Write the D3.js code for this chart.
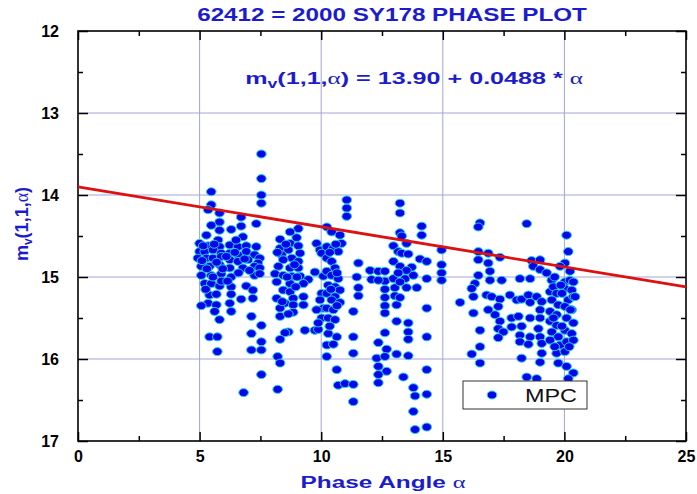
<!DOCTYPE html>
<html>
<head>
<meta charset="utf-8">
<script src="https://cdn.jsdelivr.net/npm/d3@7"></script>
<style>
  html, body { margin: 0; padding: 0; background: #fff; }
  svg { display: block; }
</style>
</head>
<body>
<svg id="chart" width="697" height="494"></svg>
<script>
// ---- Data: reduced magnitude m_v(1,1,α) against phase angle α (degrees), grouped by phase band ----
const band05 = [
  [7.54,13.50],[7.54,13.80],[7.54,14.00],[7.54,14.10],
  [5.48,13.96],[5.48,14.12],[5.35,14.18],[5.82,14.22],[6.71,14.27],[5.82,14.33],[7.33,14.35],[5.48,14.37],
  [6.71,14.38],[6.30,14.42],[5.82,14.43],[5.28,14.49],[6.78,14.51],[5.76,14.55],[5.00,14.59],[5.35,14.62],
  [5.82,14.63],[6.24,14.61],[6.58,14.63],[6.92,14.62],[7.33,14.63],
  [5.00,14.69],[5.21,14.69],[5.55,14.67],[5.89,14.71],[6.24,14.71],[6.58,14.73],[6.92,14.69],[7.26,14.73],[7.47,14.77],
  [4.93,14.77],[5.28,14.77],[5.55,14.77],[5.89,14.75],[6.24,14.79],[6.58,14.81],[6.99,14.79],[7.40,14.83],
  [5.07,14.87],[5.41,14.87],[5.82,14.85],[6.24,14.89],[6.78,14.89],[7.26,14.87],[7.47,14.89],
  [5.07,14.98],[5.48,14.98],[5.89,14.96],[6.30,15.00],[7.26,14.98],[7.47,14.96],
  [5.21,15.08],[5.48,15.08],[5.82,15.11],[6.30,15.12],[6.92,15.11],
  [5.41,15.22],[5.69,15.21],[6.30,15.21],[7.19,15.16],
  [5.35,15.32],[5.07,15.35],[5.69,15.34],[6.24,15.32],[6.71,15.27],[7.19,15.26],
  [5.62,15.42],[6.30,15.42],[5.82,15.52],[7.13,15.48],[7.13,15.69],[7.54,15.59],
  [5.41,15.73],[5.73,15.73],[7.54,15.79],[5.73,15.91],[7.13,15.89],[7.54,15.89],[7.54,16.19],[6.81,16.41],
  [5.15,14.62],[5.60,14.60],[5.70,14.82],[5.30,14.90],[5.95,14.90],[6.10,14.75],[6.45,14.70],[6.60,14.95],
  [6.85,14.78],[7.05,14.92],[5.55,15.00],[5.90,15.05],[6.15,15.05],[5.25,15.15],[6.50,14.55],[5.10,14.80]
];
const band08 = [
  [8.21,15.97],[8.31,16.05],[8.21,16.37],
  [9.06,14.41],[8.72,14.45],[8.99,14.52],[8.31,14.54],[8.72,14.59],[9.06,14.62],[8.31,14.65],[8.65,14.67],
  [9.13,14.71],[8.37,14.73],[8.79,14.77],[8.44,14.79],[9.06,14.81],[8.24,14.87],[8.72,14.89],[9.06,14.89],
  [8.10,14.96],[8.44,14.98],[8.79,14.99],[9.13,14.99],[9.47,15.03],[8.17,15.06],[8.72,15.08],[9.27,15.08],
  [8.44,15.16],[8.72,15.18],[8.17,15.26],[8.85,15.26],[9.27,15.24],[8.51,15.32],[8.85,15.34],[9.27,15.34],
  [8.31,15.38],[8.85,15.43],[8.31,15.48],[8.65,15.67],[8.51,15.68],[8.31,15.76],[9.33,15.65],[9.74,15.65],[9.88,15.64],
  [9.81,14.59],[9.95,14.67],[10.02,14.71],[9.74,14.94],[10.09,14.99],[10.02,15.20],[9.95,15.28],[10.09,15.38],
  [9.81,15.40],[10.02,15.50],[9.88,15.56],
  [8.55,14.60],[8.90,14.85],[8.60,15.00],[8.95,15.12],[8.40,15.30],[8.65,15.45],[8.20,14.70],[9.00,15.00]
];
const band10 = [
  [11.05,14.06],[11.05,14.16],[11.05,14.26],
  [10.23,14.39],[10.43,14.45],[10.77,14.49],[10.84,14.59],[10.23,14.63],[10.50,14.65],[10.70,14.69],
  [10.23,14.77],[10.43,14.81],[11.53,14.83],[10.57,14.89],[10.23,14.93],[10.43,14.98],[10.70,15.02],[11.46,15.00],
  [10.29,15.10],[10.57,15.12],[10.77,15.16],[11.53,15.13],[10.23,15.20],[10.57,15.24],[11.53,15.23],[10.43,15.28],
  [10.77,15.31],[10.23,15.38],[10.50,15.40],[10.29,15.50],[10.57,15.52],[11.32,15.42],
  [10.29,15.69],[10.64,15.73],[11.32,15.73],[10.23,15.83],[10.50,15.82],[11.32,15.93],[10.23,15.97],
  [10.64,16.13],[10.70,16.32],[10.98,16.30],[11.32,16.31],[11.32,16.52],
  [12.01,14.92],[12.07,15.03],[12.35,14.93],[12.62,14.93],[12.62,15.05],[12.35,15.04],[12.97,15.02],
  [12.62,15.15],[13.03,15.13],[12.62,15.25],[13.03,15.23],[12.62,15.35],[13.10,15.34],[12.62,15.44],
  [13.10,15.54],[12.62,15.68],[12.35,15.80],[12.69,15.88],[12.28,15.99],[12.62,15.97],[12.35,16.09],
  [12.69,16.15],[12.35,16.19],[12.35,16.29],[13.10,15.94],
  [13.24,14.10],[13.24,14.22],[13.24,14.46],[12.97,14.62],[13.17,14.69],[12.97,14.81],[13.24,14.87],
  [10.60,14.60],[10.35,14.70],[10.65,14.95],[10.40,15.15],[10.65,15.35],[10.35,15.60]
];
const band13 = [
  [13.31,14.50],[13.51,14.59],[13.31,14.71],[13.58,14.72],[14.13,14.38],[14.13,14.49],[14.06,14.78],
  [14.34,14.81],[13.72,14.88],[13.51,14.92],[13.45,15.02],[13.79,14.98],[13.24,15.06],[13.51,15.13],
  [13.93,15.13],[14.34,15.02],[13.24,15.25],[13.17,14.95],
  [14.95,14.67],[14.95,14.85],[14.95,14.95],[14.95,15.04],
  [14.34,15.38],[13.58,15.56],[13.58,15.67],[13.58,15.76],[14.34,15.73],[13.58,15.96],[14.34,16.13],
  [13.38,16.22],[13.79,16.35],[13.86,16.45],[14.34,16.43],[13.79,16.64],[13.86,16.86],[14.34,16.83]
];
const band16 = [
  [16.53,14.34],[16.46,14.39],[18.45,14.35],[20.09,14.49],[20.16,14.69],
  [16.46,14.69],[16.87,14.71],[17.35,14.76],[16.46,14.79],[16.87,14.83],
  [18.65,14.80],[19.00,14.79],[18.72,14.87],[19.00,14.91],[19.27,14.95],[20.02,14.83],[19.82,14.87],[20.23,14.93],
  [16.46,14.98],[16.94,14.93],[17.42,15.04],[16.94,15.04],[18.17,15.02],[18.59,15.02],
  [16.32,15.08],[16.19,15.14],[16.26,15.24],[15.71,15.31],[16.26,15.44],[16.53,15.65],[16.53,15.85],
  [16.19,15.94],[16.53,16.05],
  [16.80,15.22],[17.01,15.24],[17.35,15.27],[17.28,15.36],[17.15,15.46],[17.35,15.54],[17.28,15.63],
  [17.49,15.67],[17.28,15.74],[16.87,15.40],
  [17.76,15.22],[18.04,15.28],[18.24,15.27],[18.52,15.22],[18.59,15.31],[18.86,15.24],[17.83,15.50],
  [18.11,15.48],[17.83,15.61],[18.24,15.60],[18.59,15.50],[18.17,15.71],[18.59,15.73],[18.17,15.79],
  [18.52,15.82],[18.24,15.99],
  [19.07,15.30],[19.00,15.40],[19.00,15.50],[18.93,15.63],[19.00,15.73],[19.07,15.81],[19.07,15.93],[19.00,16.04],
  [19.48,15.04],[19.41,15.18],[19.55,15.12],[19.68,15.20],[19.48,15.28],[19.75,15.34],[19.41,15.42],
  [19.68,15.46],[19.41,15.54],[19.68,15.59],[19.48,15.67],[19.75,15.73],[19.41,15.77],[19.82,15.83],
  [19.68,15.93],[19.75,16.05],
  [20.02,15.06],[20.23,15.04],[20.02,15.14],[20.30,15.16],[20.16,15.28],[20.37,15.24],[20.02,15.36],
  [20.30,15.40],[20.09,15.50],[20.37,15.56],[20.02,15.65],[20.30,15.69],[20.09,15.79],[20.37,15.77],
  [20.02,15.91],[20.09,16.09],[20.37,16.17],
  [18.45,16.22],[18.86,16.24],[20.16,16.24],[20.37,15.06],[20.44,15.24],
  [19.60,15.00],[19.90,15.20],[19.55,15.50],[19.90,15.60],[20.20,15.85],[19.60,15.85],[20.25,15.40],[19.85,15.10]
];
const observations = [].concat(band05, band08, band10, band13, band16);

// Linear phase fit m_v = intercept + slope * α
const fitIntercept = 13.90;
const fitSlope = 0.0488;

// Axis ticks
const xTicks = [0, 5, 10, 15, 20, 25];
const xMinorTicks = [2.5, 7.5, 12.5, 17.5, 22.5];
const yTicks = [12, 13, 14, 15, 16, 17];
const yMinorTicks = [12.5, 13.5, 14.5, 15.5, 16.5];
const xGridLines = [5, 10, 15, 20];
const yGridLines = [13, 14, 15, 16];

const titleText = "62412 = 2000 SY178 PHASE PLOT";
const legendLabel = "MPC";

// ---- Layout ----
const plot = { left: 78, right: 686, top: 31, bottom: 441 };
const FONT = "'Liberation Sans', Arial, Helvetica, sans-serif";
const BLUE_TEXT = "#1c1ccc";

const svg = d3.select("#chart");
const x = d3.scaleLinear().domain([0, 25]).range([plot.left, plot.right]);
const y = d3.scaleLinear().domain([12, 17]).range([plot.top, plot.bottom]);

// Grid
const grid = svg.append("g").attr("stroke", "#a4a4d6").attr("stroke-width", 1);
grid.selectAll("line.vx").data(xGridLines).join("line")
  .attr("x1", d => x(d)).attr("x2", d => x(d))
  .attr("y1", plot.top).attr("y2", plot.bottom);
grid.selectAll("line.hy").data(yGridLines).join("line")
  .attr("x1", plot.left).attr("x2", plot.right)
  .attr("y1", d => y(d)).attr("y2", d => y(d));

// Axes (ticks point into the plot on all four sides)
function styleAxis(g) {
  g.select(".domain").remove();
  g.selectAll(".tick line").attr("stroke", "#000").attr("stroke-width", 1.5);
  g.selectAll(".tick text")
    .attr("fill", "#000")
    .style("font-family", FONT)
    .style("font-size", "16px")
    .style("font-weight", "bold");
}
const fmt = d3.format("d");
svg.append("g").attr("transform", `translate(0,${plot.bottom})`)
  .call(d3.axisBottom(x).tickValues(xTicks).tickSizeInner(-9).tickSizeOuter(0).tickPadding(10).tickFormat(fmt))
  .call(styleAxis);
svg.append("g").attr("transform", `translate(0,${plot.bottom})`)
  .call(d3.axisBottom(x).tickValues(xMinorTicks).tickSizeInner(-5).tickSizeOuter(0).tickFormat(""))
  .call(styleAxis);
svg.append("g").attr("transform", `translate(0,${plot.top})`)
  .call(d3.axisTop(x).tickValues(xTicks).tickSizeInner(-9).tickSizeOuter(0).tickFormat(""))
  .call(styleAxis);
svg.append("g").attr("transform", `translate(0,${plot.top})`)
  .call(d3.axisTop(x).tickValues(xMinorTicks).tickSizeInner(-5).tickSizeOuter(0).tickFormat(""))
  .call(styleAxis);
svg.append("g").attr("transform", `translate(${plot.left},0)`)
  .call(d3.axisLeft(y).tickValues(yTicks).tickSizeInner(-10).tickSizeOuter(0).tickPadding(19).tickFormat(fmt))
  .call(styleAxis);
svg.append("g").attr("transform", `translate(${plot.left},0)`)
  .call(d3.axisLeft(y).tickValues(yMinorTicks).tickSizeInner(-5).tickSizeOuter(0).tickFormat(""))
  .call(styleAxis);
svg.append("g").attr("transform", `translate(${plot.right},0)`)
  .call(d3.axisRight(y).tickValues(yTicks).tickSizeInner(-10).tickSizeOuter(0).tickFormat(""))
  .call(styleAxis);
svg.append("g").attr("transform", `translate(${plot.right},0)`)
  .call(d3.axisRight(y).tickValues(yMinorTicks).tickSizeInner(-5).tickSizeOuter(0).tickFormat(""))
  .call(styleAxis);

// Plot frame
svg.append("rect")
  .attr("x", plot.left).attr("y", plot.top)
  .attr("width", plot.right - plot.left).attr("height", plot.bottom - plot.top)
  .attr("fill", "none").attr("stroke", "#000").attr("stroke-width", 1.6);

// Observations
const marker = { rx: 4.8, ry: 4.0, fill: "#0606e6", stroke: "#22d2ff" };
svg.append("g").selectAll("ellipse").data(observations).join("ellipse")
  .attr("cx", d => x(d[0])).attr("cy", d => y(d[1]))
  .attr("rx", marker.rx).attr("ry", marker.ry)
  .attr("fill", marker.fill).attr("stroke", marker.stroke).attr("stroke-width", 1);

// Fitted line
const fitLine = d3.line().x(a => x(a)).y(a => y(fitIntercept + fitSlope * a));
svg.append("path").datum(x.domain())
  .attr("d", fitLine)
  .attr("fill", "none").attr("stroke", "#dd1111").attr("stroke-width", 2.8);

// Text helper: centred text, stretched horizontally to a given width
function wideText(cx, baseline, width, build) {
  const g = svg.append("g");
  const t = g.append("text").attr("text-anchor", "middle")
    .style("font-family", FONT).style("font-weight", "bold");
  build(t);
  const w = t.node().getComputedTextLength();
  g.attr("transform", `translate(${cx},${baseline}) scale(${width / w},1)`);
  return g;
}
const ALPHA_FONT = "'Liberation Serif', 'DejaVu Serif', serif";

// Title
wideText(392, 21, 390, t => {
  t.attr("fill", BLUE_TEXT).style("font-size", "18px").text(titleText);
});

// Fit equation
wideText(414, 84, 338, t => {
  t.attr("fill", BLUE_TEXT).style("font-size", "17px");
  t.append("tspan").text("m");
  t.append("tspan").attr("dy", 4).style("font-size", "12px").text("v");
  t.append("tspan").attr("dy", -4).text("(1,1,");
  t.append("tspan").style("font-family", ALPHA_FONT).style("font-weight", "normal").text("\u03B1");
  t.append("tspan").text(`) = ${fitIntercept.toFixed(2)} + ${fitSlope.toFixed(4)} * `);
  t.append("tspan").style("font-family", ALPHA_FONT).style("font-weight", "normal").text("\u03B1");
});

// X axis title
wideText(383, 488, 165, t => {
  t.attr("fill", BLUE_TEXT).style("font-size", "17px");
  t.append("tspan").text("Phase Angle ");
  t.append("tspan").style("font-family", ALPHA_FONT).style("font-weight", "normal").text("\u03B1");
});

// Y axis title
const yTitle = svg.append("text")
  .attr("transform", "translate(22,224) rotate(-90)")
  .attr("text-anchor", "middle").attr("y", 6)
  .attr("fill", BLUE_TEXT)
  .style("font-family", FONT).style("font-weight", "bold").style("font-size", "18px");
yTitle.append("tspan").text("m");
yTitle.append("tspan").attr("dy", 4).style("font-size", "12px").text("v");
yTitle.append("tspan").attr("dy", -4).text("(1,1,");
yTitle.append("tspan").style("font-family", ALPHA_FONT).style("font-weight", "normal").text("\u03B1");
yTitle.append("tspan").text(")");

// Legend
const legend = svg.append("g");
legend.append("rect")
  .attr("x", 463).attr("y", 381).attr("width", 124).attr("height", 28)
  .attr("fill", "#fff").attr("stroke", "#333").attr("stroke-width", 1);
legend.append("ellipse")
  .attr("cx", 492).attr("cy", 395).attr("rx", marker.rx).attr("ry", marker.ry)
  .attr("fill", marker.fill).attr("stroke", marker.stroke).attr("stroke-width", 1);
const lg = legend.append("g");
const lt = lg.append("text").attr("fill", "#111")
  .style("font-family", FONT).style("font-size", "19px").text(legendLabel);
lg.attr("transform", `translate(525,402) scale(${52 / lt.node().getComputedTextLength()},1)`);
</script>
</body>
</html>
